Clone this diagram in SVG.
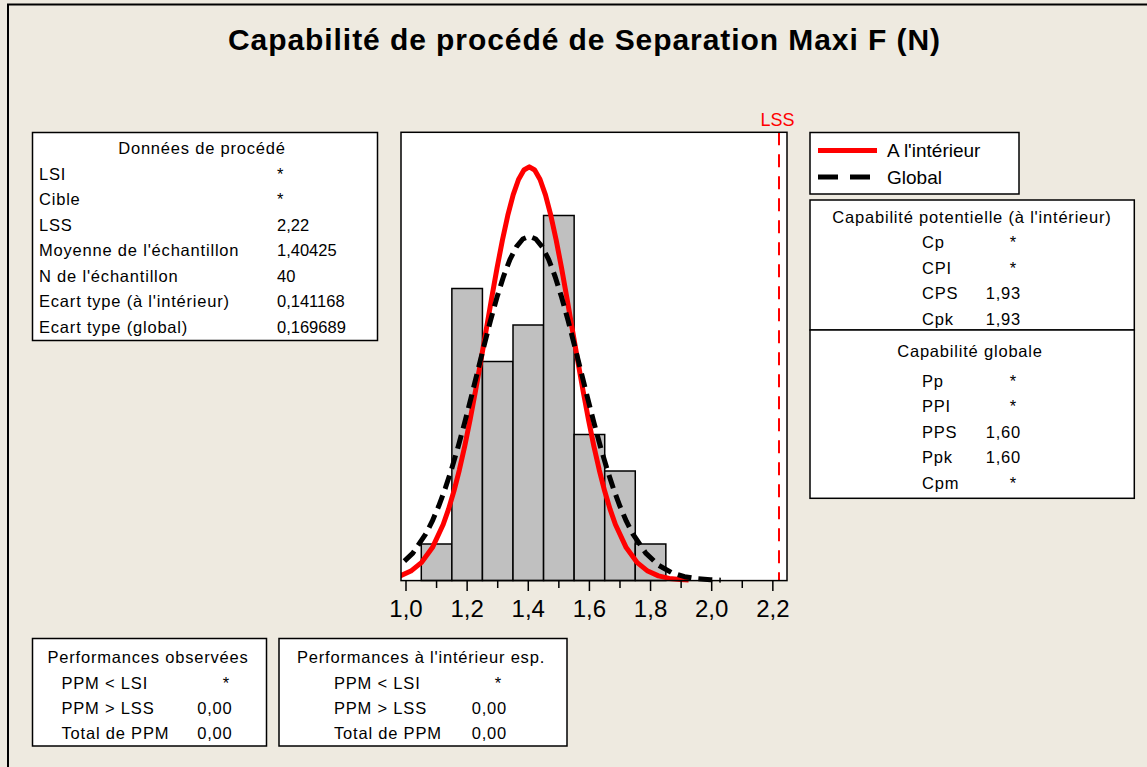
<svg xmlns="http://www.w3.org/2000/svg" width="1147" height="767" viewBox="0 0 1147 767">
<style>
text{font-family:"Liberation Sans",Arial,sans-serif;fill:#000}
.t{font-size:16.5px}
.l{letter-spacing:0.8px}
.m{text-anchor:middle}
.e{text-anchor:end}
.box{fill:#fff;stroke:#000;stroke-width:1.5}
.bar{fill:#C0C0C0;stroke:#000;stroke-width:1.5}
.tick{stroke:#000;stroke-width:1.5}
.ax{font-size:24px;text-anchor:middle}
</style>
<defs>
<clipPath id="plotclip"><rect x="401" y="132" width="386" height="451"/></clipPath>
</defs>
<rect x="0" y="0" width="1147" height="767" fill="#EEEAE0"/>
<rect x="8" y="4.5" width="1160" height="790" fill="none" stroke="#000" stroke-width="2"/>

<g id="title">
<text x="228" y="49.5" font-size="30" font-weight="bold" textLength="712" lengthAdjust="spacing">Capabilité de procédé de Separation Maxi F  (N)</text>
</g>

<g id="process-data">
<rect class="box" x="32.5" y="132.5" width="345" height="208"/>
<text class="t l m" x="202" y="154">Données de procédé</text>
<text class="t l" x="39" y="179.5">LSI</text><text class="t" x="277" y="179.5">*</text>
<text class="t l" x="39" y="205">Cible</text><text class="t" x="277" y="205">*</text>
<text class="t l" x="39" y="230.5">LSS</text><text class="t" x="277" y="230.5">2,22</text>
<text class="t l" x="39" y="256">Moyenne de l'échantillon</text><text class="t" x="277" y="256">1,40425</text>
<text class="t l" x="39" y="281.5">N de l'échantillon</text><text class="t" x="277" y="281.5">40</text>
<text class="t l" x="39" y="307">Ecart type (à l'intérieur)</text><text class="t" x="277" y="307">0,141168</text>
<text class="t l" x="39" y="332.5">Ecart type (global)</text><text class="t" x="277" y="332.5">0,169689</text>
</g>

<g id="plot">
<rect x="401" y="132.3" width="386" height="448.3" fill="#fff"/>
<g id="histogram">
<rect class="bar" x="421.3" y="544" width="30.57" height="36.5"/>
<rect class="bar" x="451.86" y="288.5" width="30.57" height="292"/>
<rect class="bar" x="482.43" y="361.5" width="30.57" height="219"/>
<rect class="bar" x="513" y="325" width="30.57" height="255.5"/>
<rect class="bar" x="543.57" y="215.5" width="30.57" height="365"/>
<rect class="bar" x="574.14" y="434.5" width="30.57" height="146"/>
<rect class="bar" x="604.7" y="471" width="30.57" height="109.5"/>
<rect class="bar" x="635.27" y="544" width="30.57" height="36.5"/>
</g>
<g clip-path="url(#plotclip)" fill="none" stroke-linejoin="round">
<path id="within-curve" stroke="#FF0000" stroke-width="5" d="M378.59,579.59 L389.35,578.40 L400.12,575.90 L410.88,571.07 L421.65,562.32 L432.41,547.59 L443.18,524.51 L448.56,509.16 L453.94,491.03 L459.33,470.02 L464.71,446.19 L470.09,419.75 L475.47,391.10 L480.86,360.79 L486.24,329.58 L491.62,298.38 L497.00,268.22 L502.39,240.20 L507.77,215.41 L513.15,194.89 L518.53,179.53 L523.92,170.02 L529.30,166.80 L534.68,170.02 L540.07,179.53 L545.45,194.89 L550.83,215.41 L556.21,240.20 L561.60,268.22 L566.98,298.38 L572.36,329.58 L577.74,360.79 L583.13,391.10 L588.51,419.75 L593.89,446.19 L599.27,470.02 L604.66,491.03 L610.04,509.16 L615.42,524.51 L626.19,547.59 L636.95,562.32 L647.72,571.07 L658.48,575.90 L669.25,578.40 L680.01,579.59 L688.62,580.06"/>
<path id="overall-curve" stroke="#000" stroke-width="5" stroke-dasharray="14 7" d="M386.97,572.66 L399.91,565.38 L412.85,553.12 L425.79,533.92 L432.26,521.14 L438.73,506.06 L445.20,488.58 L451.67,468.76 L458.14,446.76 L464.61,422.91 L471.08,397.70 L477.54,371.73 L484.01,345.78 L490.48,320.68 L496.95,297.37 L503.42,276.74 L509.89,259.67 L516.36,246.89 L522.83,238.98 L529.30,236.30 L535.77,238.98 L542.24,246.89 L548.71,259.67 L555.18,276.74 L561.65,297.37 L568.12,320.68 L574.59,345.78 L581.06,371.73 L587.52,397.70 L593.99,422.91 L600.46,446.76 L606.93,468.76 L613.40,488.58 L619.87,506.06 L626.34,521.14 L632.81,533.92 L645.75,553.12 L658.69,565.38 L671.63,572.66 L684.57,576.68 L697.50,578.75 L710.44,579.75 L720.79,580.14"/>
</g>
<line id="lss-line" x1="779" y1="132.3" x2="779" y2="580.6" stroke="#FF0000" stroke-width="2" stroke-dasharray="13 9"/>
<text x="777.5" y="126" font-size="18" style="fill:#FF0000" text-anchor="middle">LSS</text>
<rect x="401" y="132.3" width="386" height="448.3" fill="none" stroke="#000" stroke-width="1.5"/>
<g id="x-axis">
<path class="tick" d="M406,580.6V591 M436.57,580.6V588 M467.14,580.6V591 M497.71,580.6V588 M528.28,580.6V591 M558.85,580.6V588 M589.42,580.6V591 M619.99,580.6V588 M650.56,580.6V591 M681.13,580.6V588 M711.7,580.6V591 M742.27,580.6V588 M772.84,580.6V591"/>
<text class="ax" x="406" y="616.5">1,0</text>
<text class="ax" x="467.14" y="616.5">1,2</text>
<text class="ax" x="528.28" y="616.5">1,4</text>
<text class="ax" x="589.42" y="616.5">1,6</text>
<text class="ax" x="650.56" y="616.5">1,8</text>
<text class="ax" x="711.7" y="616.5">2,0</text>
<text class="ax" x="772.84" y="616.5">2,2</text>
</g>
</g>

<g id="legend">
<rect class="box" x="810" y="132.5" width="209" height="61.5"/>
<line x1="818" y1="150.5" x2="877" y2="150.5" stroke="#FF0000" stroke-width="5"/>
<text x="887" y="157" font-size="19">A l'intérieur</text>
<path d="M818,177H838 M850,177H870" stroke="#000" stroke-width="5"/>
<text x="887" y="184" font-size="19">Global</text>
</g>

<g id="potential-capability">
<rect class="box" x="810" y="200" width="324.3" height="130"/>
<text class="t l m" x="972" y="222.5">Capabilité potentielle (à l'intérieur)</text>
<text class="t l" x="922" y="248">Cp</text><text class="t m" x="1013" y="248">*</text>
<text class="t l" x="922" y="273.5">CPI</text><text class="t m" x="1013" y="273.5">*</text>
<text class="t l" x="922" y="299">CPS</text><text class="t l e" x="1021" y="299">1,93</text>
<text class="t l" x="922" y="324.5">Cpk</text><text class="t l e" x="1021" y="324.5">1,93</text>
</g>

<g id="overall-capability">
<rect class="box" x="810" y="330" width="324.3" height="168.3"/>
<text class="t l m" x="970" y="357">Capabilité globale</text>
<text class="t l" x="922" y="386.5">Pp</text><text class="t m" x="1013" y="386.5">*</text>
<text class="t l" x="922" y="412">PPI</text><text class="t m" x="1013" y="412">*</text>
<text class="t l" x="922" y="437.5">PPS</text><text class="t l e" x="1021" y="437.5">1,60</text>
<text class="t l" x="922" y="463">Ppk</text><text class="t l e" x="1021" y="463">1,60</text>
<text class="t l" x="922" y="488.5">Cpm</text><text class="t m" x="1013" y="488.5">*</text>
</g>

<g id="observed-performance">
<rect class="box" x="32.5" y="638.5" width="234" height="107.5"/>
<text class="t l m" x="148" y="663">Performances observées</text>
<text class="t l" x="61.5" y="688.5">PPM &lt; LSI</text><text class="t m" x="226" y="688.5">*</text>
<text class="t l" x="61.5" y="713.5">PPM &gt; LSS</text><text class="t l e" x="232.5" y="713.5">0,00</text>
<text class="t l" x="61.5" y="738.5">Total de PPM</text><text class="t l e" x="232.5" y="738.5">0,00</text>
</g>

<g id="expected-within-performance">
<rect class="box" x="279" y="638.5" width="288" height="107.5"/>
<text class="t l m" x="421" y="663">Performances à l'intérieur esp.</text>
<text class="t l" x="334" y="688.5">PPM &lt; LSI</text><text class="t m" x="498" y="688.5">*</text>
<text class="t l" x="334" y="713.5">PPM &gt; LSS</text><text class="t l e" x="507" y="713.5">0,00</text>
<text class="t l" x="334" y="738.5">Total de PPM</text><text class="t l e" x="507" y="738.5">0,00</text>
</g>
</svg>
